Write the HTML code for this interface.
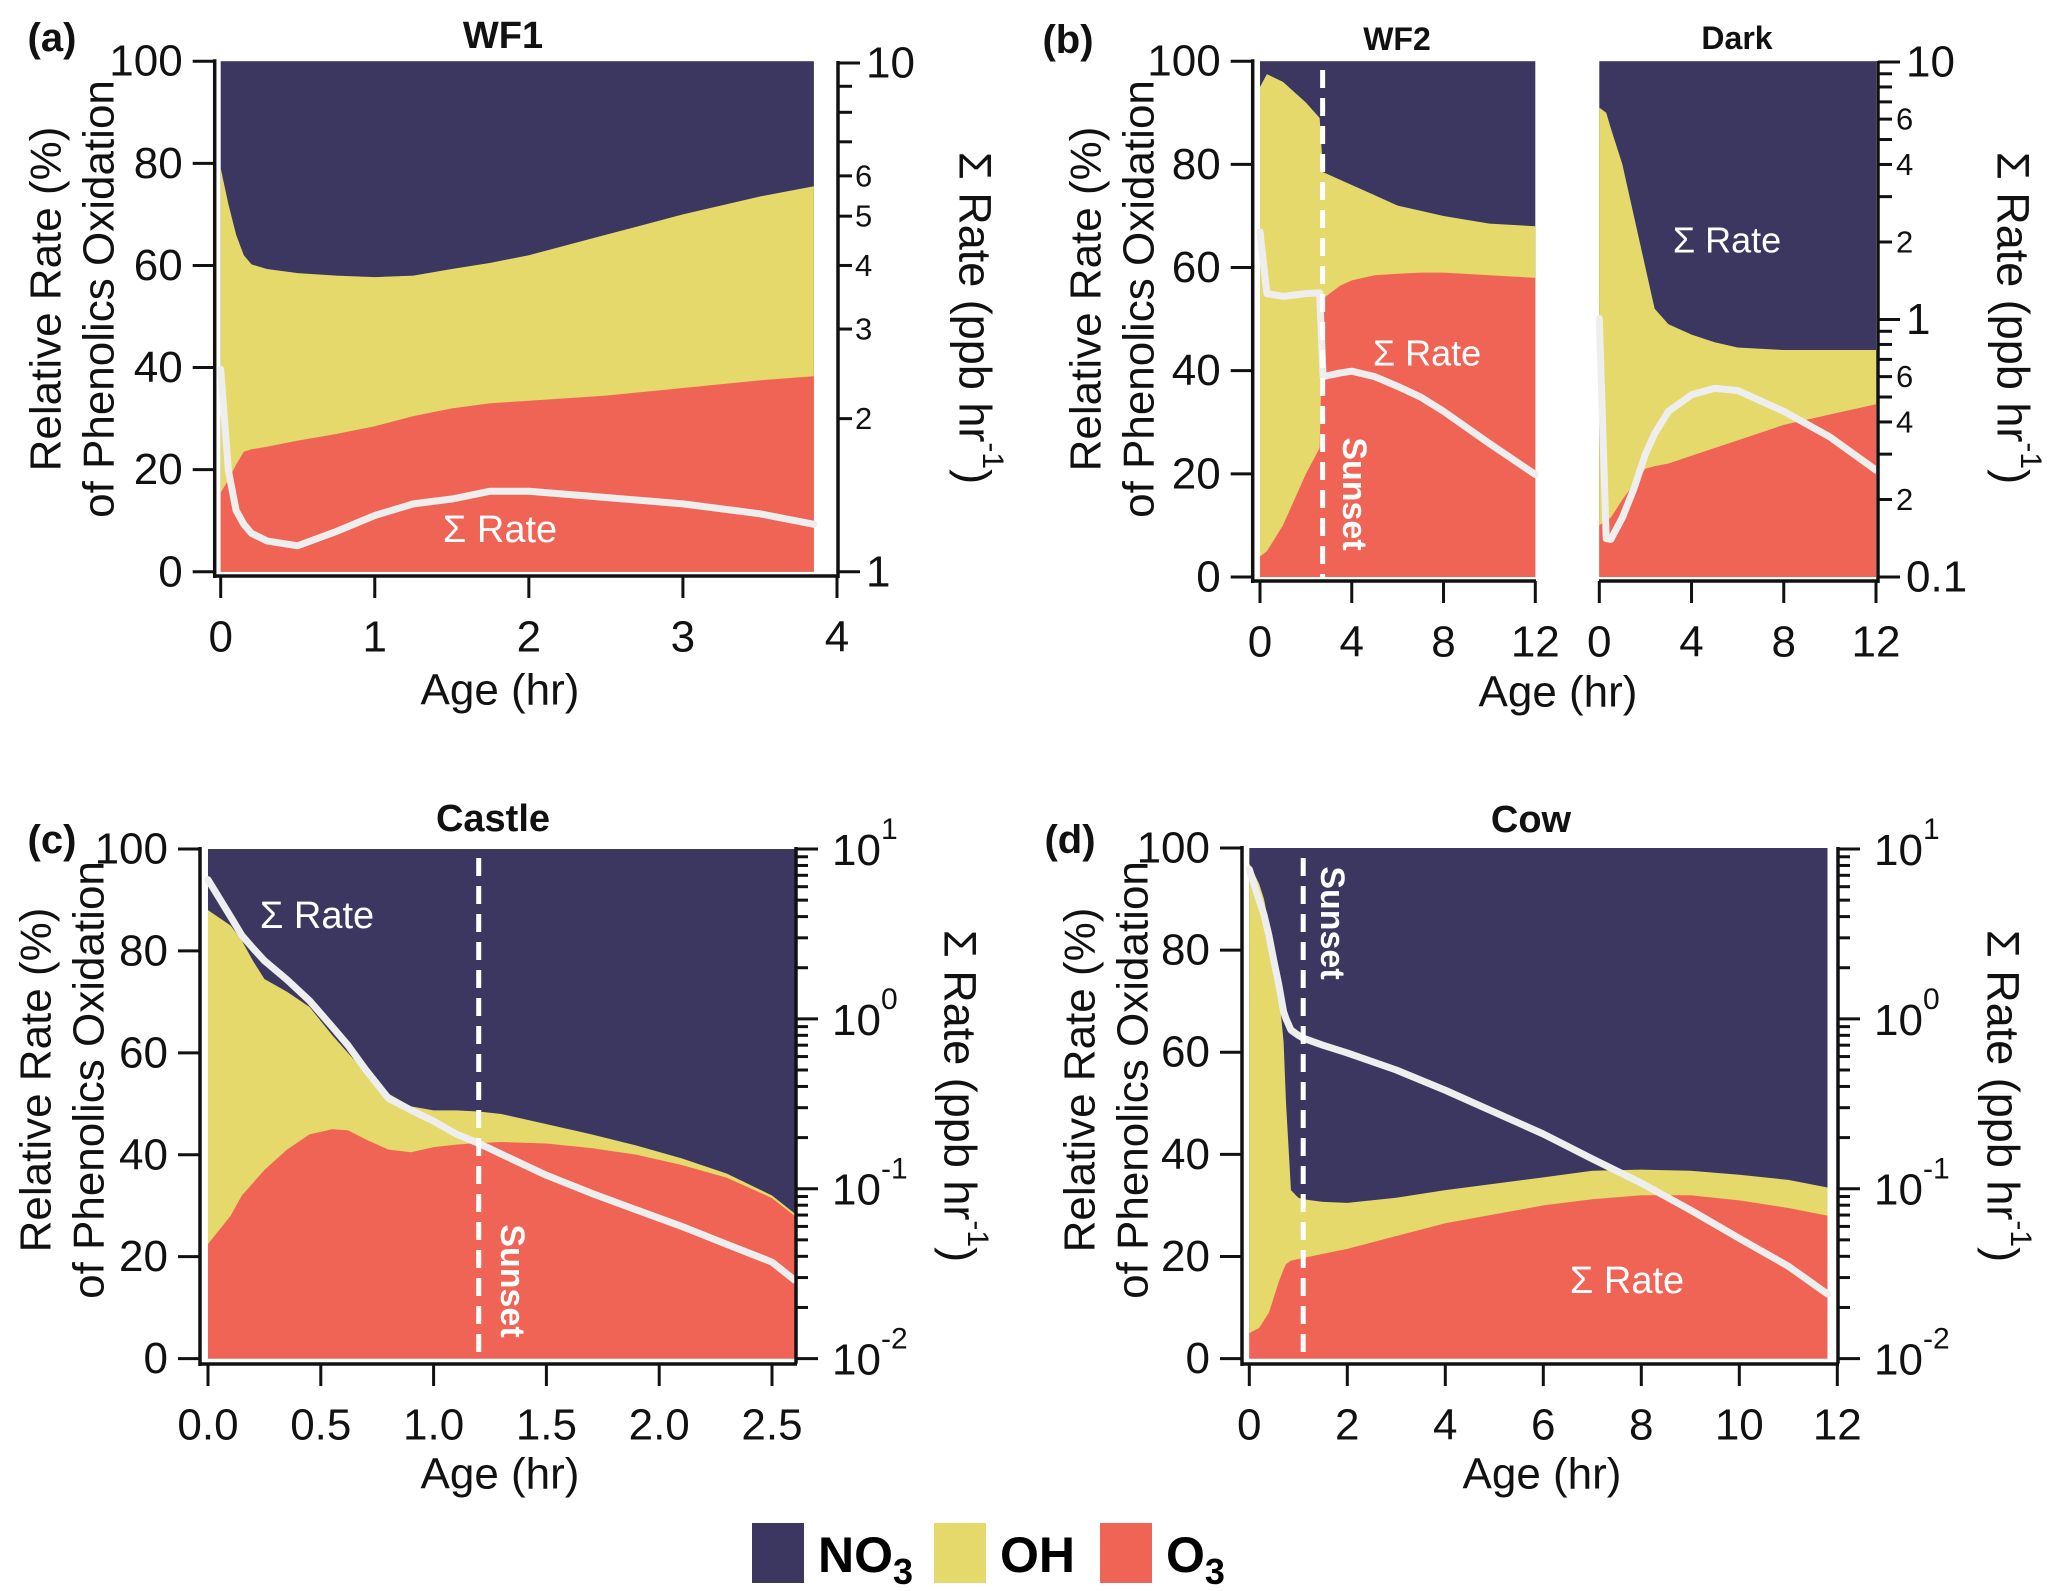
<!DOCTYPE html>
<html><head><meta charset="utf-8">
<style>
html,body{margin:0;padding:0;background:#fff;}
svg{display:block;font-family:"Liberation Sans",sans-serif;}
</style></head>
<body>
<svg id="fig" width="2067" height="1591" viewBox="0 0 2067 1591" xmlns="http://www.w3.org/2000/svg"></svg>
<script>
// ---------- DATA ----------
const aAges = [0,0.05,0.1,0.15,0.2,0.3,0.5,0.75,1,1.25,1.5,1.75,2,2.5,3,3.5,3.85];
const aOH   = [79,72,66,62,60.2,59.3,58.5,58,57.7,58,59.3,60.5,62,66,70,73.5,75.5];
const aO3   = [15.5,18,21,23.5,24,24.5,25.7,27,28.5,30.5,32,33,33.5,34.5,36,37.5,38.3];
const aRate = [2.5,1.58,1.32,1.24,1.19,1.15,1.125,1.2,1.29,1.36,1.39,1.44,1.44,1.40,1.36,1.30,1.24];

const bAges = [0,0.3,1,2,2.6,2.75,3.5,4,5,6,7,8,10,12];
const bOH   = [95,97.5,96,92,89,78.5,77,76,74,72,71,70,68.5,68];
const bO3   = [4,5,10,20,25,54,56.5,57.5,58.5,58.8,59,59,58.5,58];
const bRate = [2.19,1.26,1.23,1.26,1.27,0.60,0.62,0.63,0.60,0.55,0.50,0.44,0.33,0.25];

const dkAges = [0,0.3,0.5,1,1.5,2,2.4,3,4,5,6,8,10,12];
const dkOH   = [91,90,87,80,70,60,52,49,47,45.5,44.5,44,44,44];
const dkO3   = [10,11,11.5,15,18,21,21.5,22,23.5,25,26.5,29.5,31.5,33.5];
const dkRate = [1.01,0.141,0.14,0.17,0.22,0.30,0.36,0.44,0.51,0.54,0.53,0.44,0.35,0.26];

const cAges = [0,0.1,0.15,0.2,0.25,0.35,0.45,0.55,0.62,0.7,0.8,0.9,1.0,1.1,1.2,1.3,1.5,1.7,1.9,2.1,2.3,2.5,2.6];
const cOH   = [88,85,82,78,74.5,72,69,63.5,60,56,52,49.5,48.7,48.7,48.5,48,46,44,41.8,39.3,36.3,32,28.5];
const cO3   = [22.5,28,32,34.5,37,41,44,45,44.8,43,41,40.5,41.5,42,42.3,42.5,42.2,41.3,40,38,35.5,31.5,28];
const cRate = [6.6,4.0,3.1,2.6,2.2,1.7,1.28,0.9,0.7,0.5,0.34,0.29,0.25,0.21,0.185,0.16,0.12,0.094,0.075,0.06,0.047,0.037,0.029];

const dAges = [0,0.2,0.3,0.4,0.5,0.6,0.7,0.75,0.85,1,1.1,1.5,2,3,4,6,7,8,9,10,11,11.8];
const dOH   = [97,93,90,85,80,72,62,50,33,31.5,31.2,30.7,30.5,31.5,33,35.5,36.8,37,36.8,36,35,33.5];
const dO3   = [5,6,7.5,9,12,15,17.5,18.5,19.2,19.5,19.7,20.5,21.5,24,26.5,30,31.2,32,32,31,29.5,28];
const dRate = [7.6,5.0,4.1,3.1,2.2,1.6,1.1,1.0,0.86,0.8,0.77,0.7,0.63,0.5,0.38,0.21,0.15,0.108,0.075,0.051,0.035,0.024];

const pctTicks = [0,20,40,60,80,100];
const aXTicks = [0,1,2,3,4];
const bXTicks = [0,4,8,12];
const cXTicks = [0.0,0.5,1.0,1.5,2.0,2.5];
const dXTicks = [0,2,4,6,8,10,12];

// ---------- HELPERS ----------
const NS = "http://www.w3.org/2000/svg";
const svg = document.getElementById('fig');
const NAVY="#3c3760", YEL="#e4d96a", RED="#f06456";
function mk(tag, attrs, parent){
  const e=document.createElementNS(NS,tag);
  for(const k in attrs) e.setAttribute(k,attrs[k]);
  (parent||svg).appendChild(e);
  return e;
}
function lin(d0,d1,r0,r1){return v=>r0+(v-d0)/(d1-d0)*(r1-r0);}
function logs(d0,d1,r0,r1){return v=>r0+(Math.log10(v)-Math.log10(d0))/(Math.log10(d1)-Math.log10(d0))*(r1-r0);}

function drawStack(g, ages, oh, o3, rate, xs, ys, yr, name){
  const xEnd = xs(ages[ages.length-1]);
  const bg = mk('rect',{x:xs(ages[0]),y:ys(100),width:xEnd-xs(ages[0]),height:ys(0)-ys(100),fill:NAVY},g);
  
  
  let p='M'+xs(ages[0])+','+ys(0);
  ages.forEach((a,i)=>{p+=' L'+xs(a)+','+ys(oh[i]);});
  p+=' L'+xEnd+','+ys(0)+' Z';
  const ohA = mk('path',{d:p,fill:YEL},g);
  
  
  let q='M'+xs(ages[0])+','+ys(0);
  ages.forEach((a,i)=>{q+=' L'+xs(a)+','+ys(o3[i]);});
  q+=' L'+xEnd+','+ys(0)+' Z';
  const o3A = mk('path',{d:q,fill:RED},g);
  
  
  const pts = ages.map((a,i)=>xs(a)+','+yr(rate[i])).join(' ');
  const ln = mk('polyline',{points:pts,fill:'none',stroke:'#eeeeee','stroke-width':7,'stroke-linejoin':'round','stroke-linecap':'round'},g);
  
  
}
function txt(s, x, y, size, opts, name){
  opts=opts||{};
  const t=mk('text',{x:x,y:y,'font-size':size,fill:opts.fill||'#111','text-anchor':opts.anchor||'middle','font-weight':opts.weight||'normal','dominant-baseline':'central'});
  if(opts.rot) t.setAttribute('transform','rotate('+opts.rot+' '+x+' '+y+')');
  t.textContent=s;
  
  
  return t;
}
function line(x1,y1,x2,y2,w,col,dash){
  const l=mk('line',{x1:x1,y1:y1,x2:x2,y2:y2,stroke:col||'#111','stroke-width':w||3});
  if(dash) l.setAttribute('stroke-dasharray',dash);
  return l;
}
function leftAxis(xa, ys, yBot, name){
  const l=line(xa, ys(100)-2, xa, yBot+2, 3.5);
  
  
  pctTicks.forEach(v=>{
    const t=line(xa-22, ys(v), xa, ys(v), 3);
    
    
    txt(String(v), xa-32, ys(v), 44, {anchor:'end'}, 'y-tick-label');
  });
}
function bottomAxis(xL, xR, yA, ticks, xs, fmt, name){
  const l=line(xL, yA, xR, yA, 3.5);
  
  
  ticks.forEach(v=>{
    const t=line(xs(v), yA, xs(v), yA+22, 3);
    
    
    txt(fmt(v), xs(v), yA+61, 44, {}, 'x-tick-label');
  });
}
function yTitle(cx, cy, name){
  txt('Relative Rate (%)', cx-26, cy, 44, {rot:-90}, name+'-y-title-line1');
  txt('of Phenolics Oxidation', cx+27, cy, 44, {rot:-90}, name+'-y-title-line2');
}
function rTitle(cx, cy, name){
  const t=mk('text',{x:cx,y:cy,'font-size':45,fill:'#111','text-anchor':'middle','dominant-baseline':'central',transform:'rotate(90 '+cx+' '+cy+')'});
  t.innerHTML='Σ Rate (ppb hr<tspan dy="-18" font-size="30">-1</tspan><tspan dy="18">)</tspan>';
  
  
}
function sunset(x, yT, yB, lx, ly, name){
  const l=line(x, yT, x, yB, 5, '#ffffff', '18 10');
  
  
  txt('Sunset', lx, ly, 34, {fill:'#fff', weight:'bold', rot:90}, name+'-sunset-label');
}

// ---------- PANEL A ----------
(function(){
  const g=mk('g',{});
  
  
  const xs=lin(0,4,220.7,837), ys=lin(0,100,571.8,61.2), yr=logs(1,10,571.8,63);
  drawStack(g,aAges,aOH,aO3,aRate,xs,ys,yr,'wf1');
  leftAxis(214.7, ys, 576, 'wf1');
  bottomAxis(214.7, 838, 576, aXTicks, xs, v=>String(v), 'wf1');
  const ra=line(838, 61, 838, 578, 3.5);  
  [1,2,3,4,5,6,7,8,9,10].forEach(v=>{
    const major=(v===1||v===10);
    const t=line(838, yr(v), 838+(major?22:14), yr(v), 3);
     
    if(major) txt(String(v), 866, yr(v), 44, {anchor:'start'}, 'right-tick-label');
    else if(v<=6) txt(String(v), 855, yr(v), 31, {anchor:'start'}, 'right-tick-label');
  });
  txt('WF1', 503, 36, 38, {weight:'bold'}, 'panel-a-title');
  txt('(a)', 52, 38, 40, {weight:'bold',anchor:'middle'}, 'panel-a-label');
  txt('Age (hr)', 500, 690, 44, {}, 'panel-a-x-title');
  yTitle(72, 299, 'panel-a');
  rTitle(975, 318, 'panel-a');
  txt('Σ Rate', 500, 530, 38, {fill:'#fff'}, 'panel-a-sum-rate-label');
})();

// ---------- PANEL B ----------
(function(){
  const g=mk('g',{});
  
  
  const ys=lin(0,100,577,61.2), yr=logs(0.1,10,577,62);
  const xs1=lin(0,12,1260,1535.3), xs2=lin(0,12,1599.3,1876);
  drawStack(g,bAges,bOH,bO3,bRate,xs1,ys,yr,'wf2');
  drawStack(g,dkAges,dkOH,dkO3,dkRate,xs2,ys,yr,'dark');
  leftAxis(1252.7, ys, 581, 'wf2');
  bottomAxis(1252.7, 1536, 581, bXTicks, xs1, v=>String(v), 'wf2');
  bottomAxis(1599, 1879, 581, bXTicks, xs2, v=>String(v), 'dark');
  const ra=line(1878, 61, 1878, 583, 3.5);  
  [0.1,0.2,0.3,0.4,0.5,0.6,0.7,0.8,0.9,1,2,3,4,5,6,7,8,9,10].forEach(v=>{
    const major=(v===0.1||v===1||v===10);
    const t=line(1878, yr(v), 1878+(major?22:14), yr(v), 3);
     
  });
  [[10,'10'],[1,'1'],[0.1,'0.1']].forEach(p=>txt(p[1], 1906, yr(p[0]), 44, {anchor:'start'}, 'right-tick-label'));
  [[6,'6'],[4,'4'],[2,'2'],[0.6,'6'],[0.4,'4'],[0.2,'2']].forEach(p=>txt(p[1], 1896, yr(p[0]), 31, {anchor:'start'}, 'right-tick-label'));
  sunset(xs1(2.73), 70, 577, 1354, 494, 'wf2');
  txt('WF2', 1397, 39, 32, {weight:'bold'}, 'wf2-title');
  txt('Dark', 1737, 38, 32, {weight:'bold'}, 'dark-title');
  txt('(b)', 1068, 40, 40, {weight:'bold'}, 'panel-b-label');
  txt('Age (hr)', 1558, 692, 44, {}, 'panel-b-x-title');
  yTitle(1112, 299, 'panel-b');
  rTitle(2013, 318, 'panel-b');
  txt('Σ Rate', 1427, 353, 36, {fill:'#fff'}, 'wf2-sum-rate-label');
  txt('Σ Rate', 1727, 240, 36, {fill:'#fff'}, 'dark-sum-rate-label');
})();

// ---------- PANEL C ----------
function decadeAxis(xa, yr, name){
  const ra=line(xa, yr(10)-2, xa, yr(0.01)+5, 3.5);  
  [0.01,0.1,1].forEach(d=>{
    for(let m=1;m<10;m++){
      const v=d*m;
      const t=line(xa, yr(v), xa+(m===1?22:12), yr(v), 3);
       
    }
  });
  const t=line(xa, yr(10), xa+22, yr(10), 3);
   
  [[10,'1'],[1,'0'],[0.1,'-1'],[0.01,'-2']].forEach(p=>{
    const e=mk('text',{x:xa+36,y:yr(p[0])+16,'font-size':44,fill:'#111'});
    e.innerHTML='10<tspan dy="-26" font-size="30">'+p[1]+'</tspan>';
    
    
  });
}
(function(){
  const g=mk('g',{});
  
  
  const xs=lin(0,2.5,208,772), ys=lin(0,100,1358.6,849), yr=logs(0.01,10,1358.6,849);
  drawStack(g,cAges,cOH,cO3,cRate,xs,ys,yr,'castle');
  leftAxis(200, ys, 1364, 'castle');
  bottomAxis(200, 797, 1364, cXTicks, xs, v=>v.toFixed(1), 'castle');
  decadeAxis(796, yr, 'castle');
  sunset(xs(1.2), 858, 1358, 512, 1281, 'castle');
  txt('Castle', 493, 819, 38, {weight:'bold'}, 'panel-c-title');
  txt('(c)', 52, 840, 40, {weight:'bold'}, 'panel-c-label');
  txt('Age (hr)', 500, 1474, 44, {}, 'panel-c-x-title');
  yTitle(62, 1080, 'panel-c');
  rTitle(960, 1096, 'panel-c');
  txt('Σ Rate', 317, 916, 38, {fill:'#fff'}, 'castle-sum-rate-label');
})();

// ---------- PANEL D ----------
(function(){
  const g=mk('g',{});
  
  
  const xs=lin(0,12,1249.3,1837.3), ys=lin(0,100,1358.6,848), yr=logs(0.01,10,1358.6,849);
  drawStack(g,dAges,dOH,dO3,dRate,xs,ys,yr,'cow');
  leftAxis(1242, ys, 1364, 'cow');
  bottomAxis(1242, 1839, 1364, dXTicks, xs, v=>String(v), 'cow');
  decadeAxis(1838, yr, 'cow');
  sunset(xs(1.1), 858, 1358, 1332, 923, 'cow');
  txt('Cow', 1531, 820, 38, {weight:'bold'}, 'panel-d-title');
  txt('(d)', 1070, 840, 40, {weight:'bold'}, 'panel-d-label');
  txt('Age (hr)', 1542, 1474, 44, {}, 'panel-d-x-title');
  yTitle(1106, 1080, 'panel-d');
  rTitle(2003, 1096, 'panel-d');
  txt('Σ Rate', 1627, 1281, 38, {fill:'#fff'}, 'cow-sum-rate-label');
})();

// ---------- LEGEND ----------
(function(){
  const items=[[752,NAVY,'NO','3','legend-no3'],[934,YEL,'OH','','legend-oh'],[1100,RED,'O','3','legend-o3']];
  items.forEach(it=>{
    const r=mk('rect',{x:it[0],y:1523,width:52,height:60,fill:it[1]});
    
    
    const t=mk('text',{x:it[0]+66,y:1572,'font-size':50,'font-weight':'bold',fill:'#000'});
    t.innerHTML=it[2]+(it[3]?'<tspan dy="12" font-size="36">'+it[3]+'</tspan>':'');
    
    
  });
})();
</script>
</body></html>
